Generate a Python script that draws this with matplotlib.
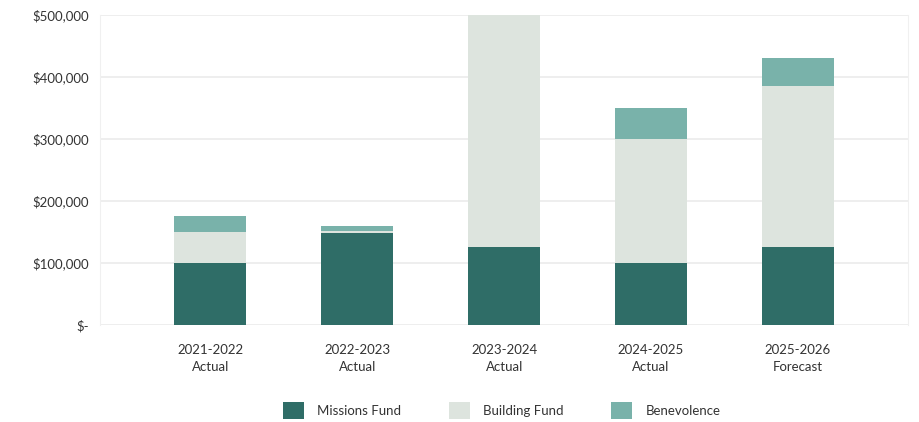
import matplotlib.pyplot as plt
from matplotlib.ticker import FuncFormatter

# data
years = ['2021-2022\nActual', '2022-2023\nActual', '2023-2024\nActual',
         '2024-2025\nActual', '2025-2026\nForecast']
missions = [100000, 148000, 125000, 100000, 125000]
building = [50000, 4000, 375000, 200000, 260000]
benevolence = [25000, 8000, 0, 50000, 45000]

c_miss = '#2f6d67'
c_build = '#dde4de'
c_bene = '#79b2aa'

plt.rcParams['font.family'] = ['Lato', 'DejaVu Sans']

fig = plt.figure(figsize=(9.2, 4.22), dpi=100)
ax = fig.add_axes([0.109, 0.23, 0.878, 0.735])

x = list(range(len(years)))
bottom2 = [a + b for a, b in zip(missions, building)]
ax.bar(x, missions, width=0.49, color=c_miss, label='Missions Fund', zorder=3)
ax.bar(x, building, width=0.49, bottom=missions, color=c_build, label='Building Fund', zorder=3)
ax.bar(x, benevolence, width=0.49, bottom=bottom2, color=c_bene, label='Benevolence', zorder=3)

ax.set_ylim(0, 500000)
ax.set_xlim(-0.75, 4.75)
ax.set_yticks([0, 100000, 200000, 300000, 400000, 500000])
ax.yaxis.set_major_formatter(FuncFormatter(lambda v, p: '$-' if v == 0 else '${:,.0f}'.format(v)))
ax.set_xticks(x)
ax.set_xticklabels(years, fontsize=9.5, color='#333333', linespacing=1.5)
ax.tick_params(axis='y', labelsize=9.5, labelcolor='#333333', length=0, pad=8)
ax.tick_params(axis='x', length=0, pad=14)
ax.grid(axis='y', color='#ebebeb', linewidth=1.2, zorder=0)
for s in ['top', 'bottom']:
    ax.spines[s].set_visible(False)
for s in ['left', 'right']:
    ax.spines[s].set_color('#f0f0f0')

ax.legend(loc='center', bbox_to_anchor=(0.497, -0.275), ncol=3, frameon=False,
          fontsize=9.5, handlelength=1.6, handleheight=1.6, columnspacing=3.6,
          handletextpad=1.0, labelcolor='#333333', borderaxespad=0, borderpad=0)

fig.savefig('out.png', dpi=100)
